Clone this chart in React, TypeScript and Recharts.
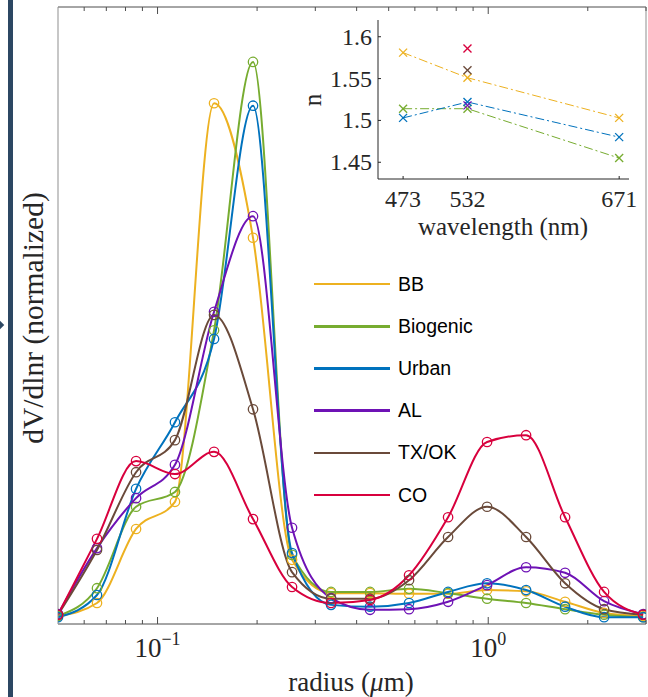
import { Label, Line, LineChart, XAxis, YAxis } from 'recharts'

// particle radius bins (um), log spaced
const radius = [
  0.05, 0.0656, 0.0861, 0.1129, 0.1482, 0.1944, 0.2551, 0.3347, 0.4392, 0.5762,
  0.7561, 0.992, 1.3016, 1.7078, 2.2407, 2.94,
]

// dV/dlnr, normalized
const bb = [0.013, 0.034, 0.154, 0.198, 0.844, 0.626, 0.104, 0.05, 0.05, 0.049, 0.049, 0.055, 0.053, 0.036, 0.018, 0.013]
const biogenic = [0.013, 0.058, 0.19, 0.214, 0.476, 0.911, 0.112, 0.052, 0.052, 0.057, 0.05, 0.041, 0.034, 0.024, 0.015, 0.011]
const urban = [0.011, 0.047, 0.219, 0.327, 0.462, 0.84, 0.115, 0.031, 0.028, 0.034, 0.052, 0.066, 0.055, 0.028, 0.011, 0.011]
const al = [0.016, 0.123, 0.204, 0.258, 0.506, 0.661, 0.156, 0.042, 0.023, 0.024, 0.036, 0.063, 0.092, 0.083, 0.037, 0.016]
const txok = [0.015, 0.12, 0.246, 0.298, 0.501, 0.348, 0.084, 0.041, 0.041, 0.071, 0.141, 0.19, 0.141, 0.066, 0.024, 0.015]
const co = [0.015, 0.138, 0.264, 0.243, 0.279, 0.17, 0.06, 0.034, 0.039, 0.079, 0.173, 0.295, 0.306, 0.173, 0.052, 0.015]

const radiusTicks = [0.06, 0.07, 0.08, 0.09, 0.1, 0.2, 0.3, 0.4, 0.5, 0.6, 0.7, 0.8, 0.9, 1, 2, 3]
const majorTicks = [0.1, 1]

// refractive index inset
const wavelengths = [473, 532, 671]
const nBB = [1.581, 1.551, 1.503]
const nBiogenic = [1.514, 1.514, 1.455]
const nUrban = [1.503, 1.522, 1.48]
const nAL = [null, 1.518, null]
const nTXOK = [null, 1.56, null]
const nCO = [null, 1.586, null]
const wavelengthTicks = [473, 532, 671]
const nTicks = [1.45, 1.5, 1.55, 1.6]

const series = [
  { key: 'bb', name: 'BB', color: '#EDB120' },
  { key: 'biogenic', name: 'Biogenic', color: '#77AC30' },
  { key: 'urban', name: 'Urban', color: '#0072BD' },
  { key: 'al', name: 'AL', color: '#6E12B5' },
  { key: 'txok', name: 'TX/OK', color: '#6A4A3A' },
  { key: 'co', name: 'CO', color: '#D8003D' },
]

const sizeData = radius.map((r, i) => ({
  r,
  bb: bb[i],
  biogenic: biogenic[i],
  urban: urban[i],
  al: al[i],
  txok: txok[i],
  co: co[i],
}))

const indexData = wavelengths.map((w, i) => ({
  w,
  bb: nBB[i],
  biogenic: nBiogenic[i],
  urban: nUrban[i],
  al: nAL[i],
  txok: nTXOK[i],
  co: nCO[i],
}))

const SERIF = '"Liberation Serif", "Times New Roman", serif'
const SANS = '"Liberation Sans", Arial, sans-serif'
const INK = '#262626'

function BottomTick({ x, y, payload }: any) {
  const major = majorTicks.includes(payload.value)
  const exp = Math.round(Math.log10(payload.value))
  return (
    <g>
      <line x1={x} x2={x} y1={y} y2={y - (major ? 7 : 4)} stroke="#4d4d4d" />
      {major && (
        <text x={x} y={y + 33} textAnchor="middle" fontFamily={SERIF} fontSize={27} fill={INK}>
          10
          <tspan dy={-12} fontSize={18}>
            {exp < 0 ? '\u2212' + Math.abs(exp) : exp}
          </tspan>
        </text>
      )}
    </g>
  )
}

function TopTick({ x, y, payload }: any) {
  const major = majorTicks.includes(payload.value)
  return <line x1={x} x2={x} y1={y} y2={y + (major ? 7 : 4)} stroke="#4d4d4d" />
}

function CircleDot({ cx, cy, stroke, index }: any) {
  if (cx == null || cy == null) return <g key={index} />
  return <circle key={index} cx={cx} cy={cy} r={4.7} stroke={stroke} strokeWidth={1.3} fill="none" />
}

function CrossDot({ cx, cy, stroke, index }: any) {
  if (cx == null || cy == null || Number.isNaN(cy)) return <g key={index} />
  const s = 4
  return (
    <g key={index} stroke={stroke} strokeWidth={1.3}>
      <line x1={cx - s} y1={cy - s} x2={cx + s} y2={cy + s} />
      <line x1={cx - s} y1={cy + s} x2={cx + s} y2={cy - s} />
    </g>
  )
}

function InsetXTick({ x, y, payload }: any) {
  return (
    <g>
      <line x1={x} x2={x} y1={y} y2={y - 3} stroke={INK} />
      <text x={x} y={y + 28} textAnchor="middle" fontFamily={SERIF} fontSize={24} fill={INK}>
        {payload.value}
      </text>
    </g>
  )
}

function InsetYTick({ x, y, payload }: any) {
  return (
    <g>
      <line x1={x} x2={x + 3} y1={y} y2={y} stroke={INK} />
      <text x={x - 6} y={y + 8} textAnchor="end" fontFamily={SERIF} fontSize={24} fill={INK}>
        {payload.value}
      </text>
    </g>
  )
}

function SizeDistribution() {
  return (
    <LineChart width={648} height={697} data={sizeData} margin={{ top: 6, right: 1, bottom: 0, left: 57 }}>
      <XAxis
        xAxisId="b"
        dataKey="r"
        type="number"
        scale="log"
        domain={[0.05, 3]}
        ticks={radiusTicks}
        interval={0}
        tickSize={0}
        tickMargin={0}
        height={73}
        tick={<BottomTick />}
        axisLine={{ stroke: '#4d4d4d' }}
        allowDataOverflow
      >
        <Label
          content={() => (
            <text x={351} y={691} textAnchor="middle" fontFamily={SERIF} fontSize={27} fill={INK}>
              radius (<tspan fontStyle="italic">{'\u03bc'}</tspan>m)
            </text>
          )}
        />
      </XAxis>
      <XAxis
        xAxisId="t"
        orientation="top"
        dataKey="r"
        type="number"
        scale="log"
        domain={[0.05, 3]}
        ticks={radiusTicks}
        interval={0}
        tickSize={0}
        tickMargin={0}
        height={1}
        tick={<TopTick />}
        axisLine={{ stroke: '#4d4d4d' }}
        allowDataOverflow
      />
      <YAxis domain={[0, 1]} width={1} tick={false} tickLine={false} axisLine={{ stroke: '#8f8f8f' }}>
        <Label
          content={() => (
            <text
              x={43}
              y={318}
              transform="rotate(-90 43 318)"
              textAnchor="middle"
              fontFamily={SERIF}
              fontSize={29.5}
              fill={INK}
            >
              dV/dlnr (normalized)
            </text>
          )}
        />
      </YAxis>
      <YAxis
        yAxisId="r"
        orientation="right"
        domain={[0, 1]}
        width={1}
        tick={false}
        tickLine={false}
        axisLine={{ stroke: '#8f8f8f' }}
      />
      {series.map((s) => (
        <Line
          key={s.key}
          xAxisId="b"
          dataKey={s.key}
          name={s.name}
          type="monotone"
          stroke={s.color}
          strokeWidth={2}
          dot={<CircleDot />}
          activeDot={false}
          isAnimationActive={false}
        />
      ))}
    </LineChart>
  )
}

function RefractiveIndexInset() {
  return (
    <LineChart width={340} height={250} data={indexData} margin={{ top: 20, right: 11, bottom: 0, left: 0 }}>
      <XAxis
        dataKey="w"
        type="number"
        domain={[450, 680]}
        ticks={wavelengthTicks}
        interval={0}
        tickSize={0}
        tickMargin={0}
        height={71}
        tick={<InsetXTick />}
        axisLine={{ stroke: INK }}
      >
        <Label
          content={() => (
            <text x={203} y={235} textAnchor="middle" fontFamily={SERIF} fontSize={25} fill={INK}>
              wavelength (nm)
            </text>
          )}
        />
      </XAxis>
      <YAxis
        domain={[1.43, 1.62]}
        ticks={nTicks}
        interval={0}
        tickSize={0}
        tickMargin={0}
        width={78}
        tick={<InsetYTick />}
        axisLine={{ stroke: INK }}
      >
        <Label
          content={() => (
            <text x={21} y={100} transform="rotate(-90 21 100)" textAnchor="middle" fontFamily={SERIF} fontSize={25} fill={INK}>
              n
            </text>
          )}
        />
      </YAxis>
      {series.map((s) => (
        <Line
          key={s.key}
          dataKey={s.key}
          name={s.name}
          type="linear"
          stroke={s.color}
          strokeWidth={1}
          strokeDasharray="9 3 2 3"
          dot={<CrossDot />}
          activeDot={false}
          connectNulls={false}
          isAnimationActive={false}
        />
      ))}
    </LineChart>
  )
}

function SeriesLegend() {
  return (
    <div style={{ position: 'absolute', left: 314, top: 263, fontFamily: SANS, fontSize: 19.5, color: '#000' }}>
      {series.map((s) => (
        <div key={s.key} style={{ display: 'flex', alignItems: 'center', height: 42.2 }}>
          <span style={{ display: 'inline-block', width: 76, height: 2.5, background: s.color, marginRight: 8 }} />
          {s.name}
        </div>
      ))}
    </div>
  )
}

export default function App() {
  return (
    <div style={{ position: 'absolute', left: 0, top: 0, width: 648, height: 697, background: '#fff', overflow: 'hidden' }}>
      <div style={{ position: 'absolute', left: 8, top: 0, width: 5, height: 697, background: '#2C4763' }} />
      <div
        style={{
          position: 'absolute',
          left: -3,
          top: 322,
          width: 6,
          height: 6,
          background: '#2C4763',
          transform: 'rotate(45deg)',
        }}
      />
      <div style={{ position: 'absolute', left: 0, top: 0 }}>
        <SizeDistribution />
      </div>
      <div style={{ position: 'absolute', left: 300, top: 0 }}>
        <RefractiveIndexInset />
      </div>
      <SeriesLegend />
    </div>
  )
}
